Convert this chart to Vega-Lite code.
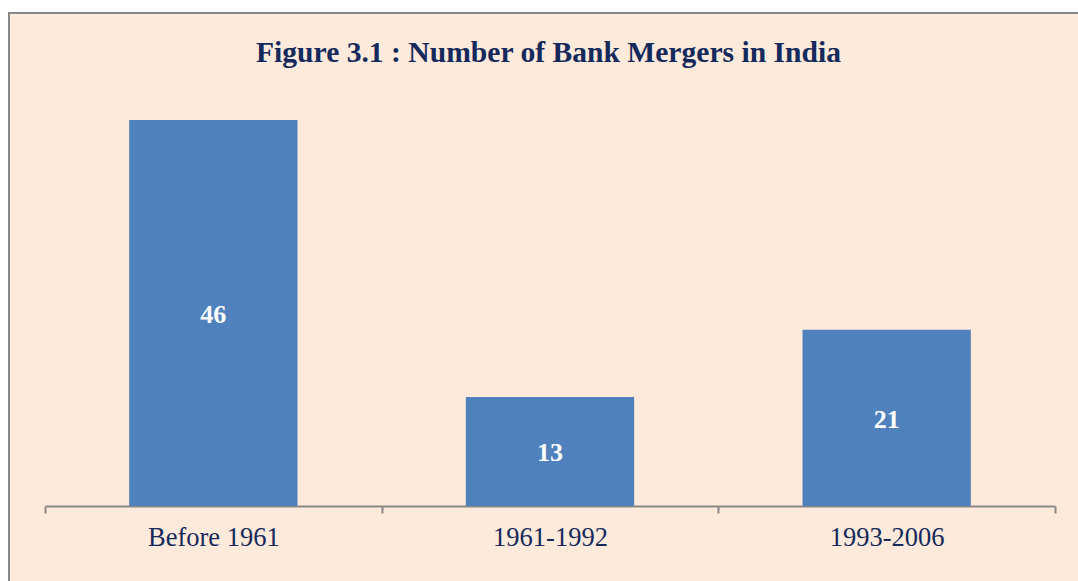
{
  "$schema": "https://vega.github.io/schema/vega-lite/v6.json",
  "autosize": {"type": "none"},
  "padding": {"left": 9, "top": 13, "right": -6, "bottom": -6},
  "width": 1075,
  "height": 574,
  "background": "#ffffff",
  "title": {
    "text": "Figure 3.1 : Number of Bank Mergers in India",
    "font": "Liberation Serif",
    "fontSize": 29.6,
    "fontWeight": "bold",
    "color": "#14295C",
    "anchor": "middle",
    "baseline": "alphabetic",
    "offset": -79,
    "dx": 2
  },
  "data": {
    "values": [
      {"period": "Before 1961", "mergers": 46},
      {"period": "1961-1992", "mergers": 13},
      {"period": "1993-2006", "mergers": 21}
    ]
  },
  "transform": [{"calculate": "datum.mergers / 2", "as": "mid"}],
  "encoding": {
    "x": {
      "field": "period",
      "type": "nominal",
      "sort": null,
      "scale": {"range": [36, 1046], "paddingInner": 0, "paddingOuter": 0},
      "axis": {
        "title": null,
        "labelAngle": 0,
        "labelFont": "Liberation Serif",
        "labelFontSize": 26.5,
        "labelColor": "#14295C",
        "labelBaseline": "alphabetic",
        "labelPadding": 32,
        "tickSize": 7,
        "tickWidth": 2,
        "tickColor": "#888888",
        "tickBand": "extent",
        "domainColor": "#888888",
        "domainWidth": 2,
        "offset": -81,
        "grid": false
      }
    }
  },
  "layer": [
    {
      "mark": {"type": "bar", "color": "#4F81BD", "width": {"band": 0.5}},
      "encoding": {
        "y": {
          "field": "mergers",
          "type": "quantitative",
          "scale": {"domain": [0, 50], "range": [493, 73.5], "nice": false},
          "axis": null
        }
      }
    },
    {
      "mark": {
        "type": "text",
        "color": "#ffffff",
        "font": "Liberation Serif",
        "fontSize": 26,
        "fontWeight": "bold",
        "baseline": "middle",
        "dy": 2
      },
      "encoding": {
        "y": {"field": "mid", "type": "quantitative", "scale": {"domain": [0, 50], "range": [493, 73.5], "nice": false}},
        "text": {"field": "mergers", "type": "quantitative"}
      }
    }
  ],
  "config": {
    "view": {"fill": "#FDEADA", "stroke": "#888888", "strokeWidth": 2}
  }
}
